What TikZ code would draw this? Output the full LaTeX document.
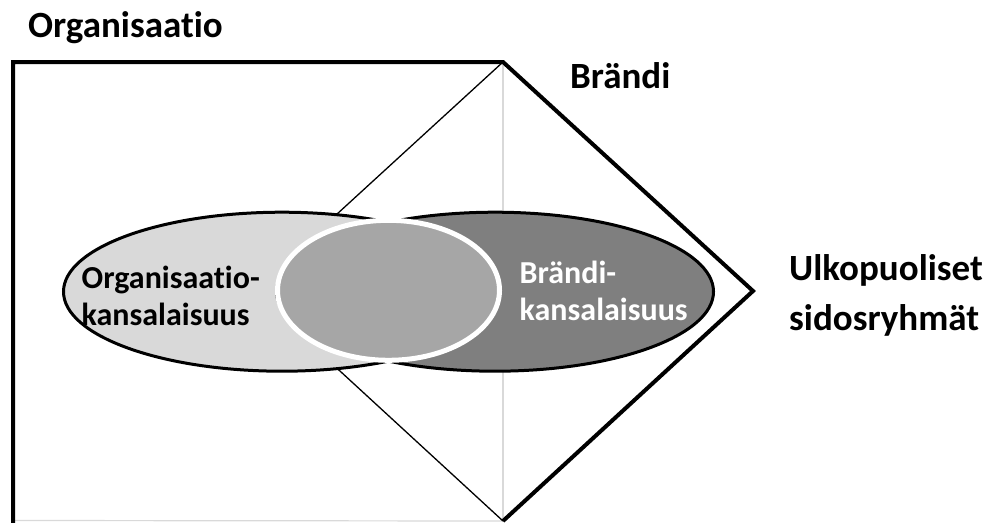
\documentclass[tikz,border=0pt]{standalone}
\usepackage{fontspec}
\setmainfont[RawFeature=-liga]{Carlito}
\usetikzlibrary{shapes.geometric}
\definecolor{orgfill}{HTML}{D9D9D9}
\definecolor{corefill}{HTML}{A6A6A6}
\definecolor{brandfill}{HTML}{7F7F7F}
\definecolor{guidegray}{HTML}{D9D9D9}
\begin{document}
\begin{tikzpicture}[x=1pt,y=-1pt,
  frame/.style={line width=4pt, draw=black, line join=miter},
  thinedge/.style={line width=1.3pt, draw=black},
  guide/.style={line width=1.2pt, draw=guidegray},
  citizen/.style={ellipse, draw=black, line width=3pt, inner sep=0pt,
    minimum width=437pt, minimum height=159pt},
  core/.style={ellipse, draw=white, fill=corefill, line width=5pt, inner sep=0pt,
    minimum width=222pt, minimum height=140pt},
  biglabel/.style={font=\fontsize{37}{50}\selectfont\bfseries, inner sep=0pt,
    anchor=base west, align=left},
  smalllabel/.style={font=\fontsize{32}{37}\selectfont\bfseries, inner sep=0pt,
    anchor=base west, align=left}]
\useasboundingbox (0,0) rectangle (987,522);

% corner points of the frame and the diamond
\coordinate (bl) at (13,524);
\coordinate (tl) at (13,62);
\coordinate (top) at (503,62);
\coordinate (right) at (753,291);
\coordinate (bottom) at (503,521);
\coordinate (left) at (253,291);
\coordinate (base) at (15,520.5);

% light guides: centre line and bottom edge
\draw[guide] (top) -- (bottom);
\draw[guide] (base) -- (bottom);

% thin left half of the diamond
\draw[thinedge] (top) -- (left) -- (bottom);

% organisation frame joined to the outer half of the diamond
\draw[frame] (bl) -- (tl) -- (top) -- (right) -- (bottom);

% the two citizenship ellipses and their shared core
\node[citizen, fill=orgfill] (org) at (282,291.7) {};
\node[citizen, fill=brandfill] (brand) at (495,291.7) {};
\node[core] (mid) at (388.5,290.3) {};

% labels (multi-line labels sit on the baseline of their last line)
\node[biglabel] (orgtitle) at (28,37) {Organisaatio};
\node[biglabel] (brandtitle) at (570,88) {Brändi};
\node[biglabel] (external) at (789,330) {Ulkopuoliset\\sidosryhmät};
\node[smalllabel] (orgtext) at (81.5,325) {Organisaatio-\\kansalaisuus};
\node[smalllabel, text=white] (brandtext) at (519.5,320) {Brändi-\\kansalaisuus};
\end{tikzpicture}
\end{document}
